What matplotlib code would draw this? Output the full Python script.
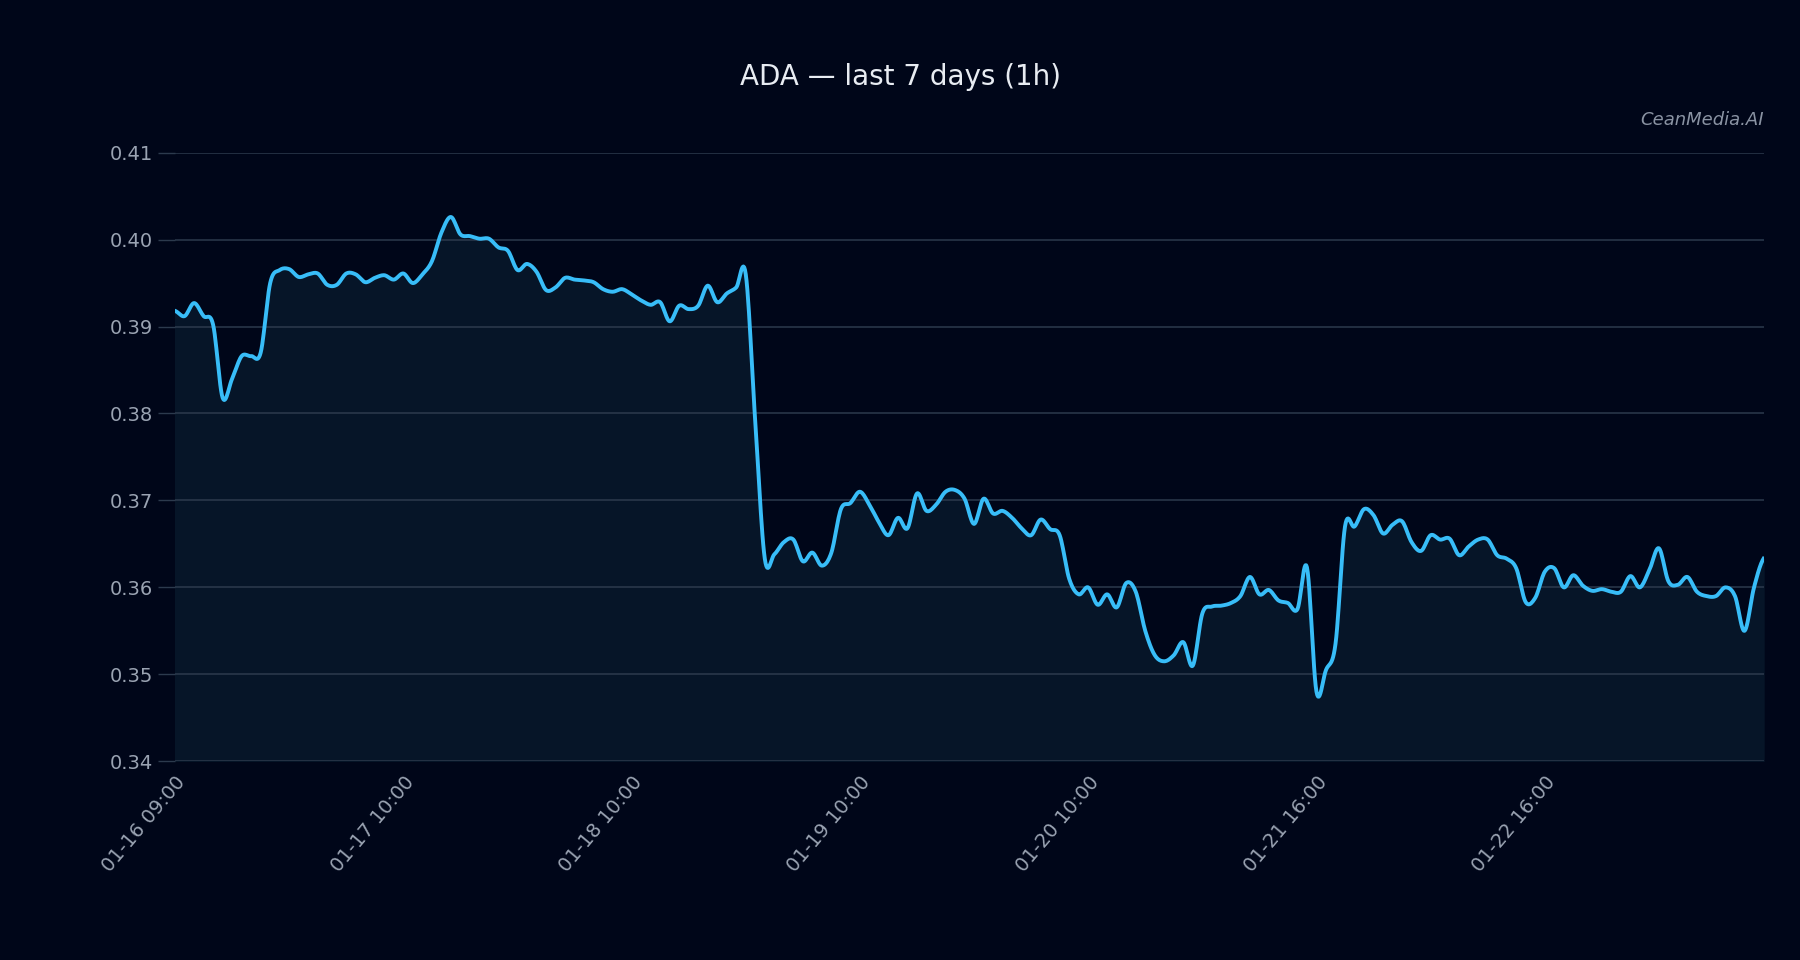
import numpy as np
import matplotlib
matplotlib.use("Agg")
import matplotlib.pyplot as plt

values = [0.3918,0.3912,0.3927,0.3912,0.3902,0.3818,0.3840,0.3866,0.3866,0.3870,
0.3950,0.3965,0.3966,0.3957,0.3960,0.3961,0.3948,0.3948,0.3961,0.3960,
0.3951,0.3956,0.3959,0.3954,0.3961,0.3950,0.3960,0.3975,0.4008,0.4026,
0.4006,0.4004,0.4001,0.4001,0.3991,0.3987,0.3965,0.3972,0.3963,0.3942,
0.3945,0.3956,0.3954,0.3953,0.3951,0.3943,0.3940,0.3943,0.3937,0.3930,
0.3925,0.3928,0.3906,0.3924,0.3920,0.3924,0.3947,0.3928,0.3938,0.3945,
0.3960,0.3790,0.3633,0.3638,0.3652,0.3655,0.3630,0.3640,0.3625,0.3640,
0.3690,0.3697,0.3710,0.3695,0.3675,0.3660,0.3680,0.3668,0.3708,0.3688,
0.3695,0.3710,0.3712,0.3702,0.3673,0.3702,0.3685,0.3688,0.3680,0.3668,
0.3660,0.3678,0.3667,0.3660,0.3610,0.3592,0.3600,0.3580,0.3592,0.3577,
0.3605,0.3595,0.3550,0.3522,0.3515,0.3522,0.3537,0.3510,0.3570,0.3578,
0.3579,0.3582,0.3590,0.3612,0.3592,0.3597,0.3585,0.3582,0.3575,0.3623,
0.3480,0.3505,0.3535,0.3670,0.3670,0.3690,0.3683,0.3662,0.3672,0.3676,
0.3652,0.3642,0.3660,0.3655,0.3656,0.3637,0.3647,0.3655,0.3655,0.3637,
0.3633,0.3622,0.3583,0.3588,0.3618,0.3622,0.3600,0.3614,0.3602,0.3596,
0.3598,0.3595,0.3595,0.3613,0.3600,0.3620,0.3645,0.3607,0.3603,0.3612,
0.3595,0.3590,0.3590,0.3600,0.3590,0.3550,0.3600,0.3633]
tick_pos = [0, 24, 48, 72, 96, 120, 144]
tick_labels = ["01-16 09:00","01-17 10:00","01-18 10:00","01-19 10:00",
               "01-20 10:00","01-21 16:00","01-22 16:00"]
yticks = [0.34,0.35,0.36,0.37,0.38,0.39,0.40,0.41]

y = np.array(values); x = np.arange(len(y))
# Catmull-Rom smoothing for display
n = 12
xs, ys = [], []
p = np.concatenate([[y[0]], y, [y[-1]]])
for i in range(len(y)-1):
    p0,p1,p2,p3 = p[i],p[i+1],p[i+2],p[i+3]
    t = np.linspace(0,1,n,endpoint=False)
    ys.append(0.5*((2*p1)+(-p0+p2)*t+(2*p0-5*p1+4*p2-p3)*t**2+(-p0+3*p1-3*p2+p3)*t**3))
    xs.append(i+t)
xs = np.concatenate(xs+[[x[-1]]]); ys = np.concatenate(ys+[[y[-1]]])

bg = "#000619"
fig = plt.figure(figsize=(18,9.6), dpi=100, facecolor=bg)
ax = fig.add_axes([0.097,0.207,0.883,0.634], facecolor=bg)
ax.fill_between(xs, ys, 0.34, color="#061528", zorder=1)
ax.plot(xs, ys, color="#38bdf8", lw=2.8, zorder=3)
ax.set_xlim(-0.05, len(y)-1+0.05)
ax.set_ylim(0.34, 0.41)
ax.set_yticks(yticks)
ax.set_yticklabels([f"{v:.2f}" for v in yticks])
ax.set_xticks(tick_pos)
ax.set_xticklabels(tick_labels, rotation=50, ha="right", rotation_mode="anchor")
ax.grid(axis="y", color="#2c3a4d", lw=1.1)
ax.tick_params(colors="#9aa3b2", labelsize=14, length=12, width=1, color="#2c3a4d")
ax.tick_params(axis="x", length=0, pad=8)
for s in ax.spines.values(): s.set_visible(False)
fig.text(0.5, 0.92, "ADA — last 7 days (1h)", color="#e8ecf2", fontsize=20, ha="center", va="center")
fig.text(0.98, 0.875, "CeanMedia.AI", color="#8a93a3", fontsize=13, style="italic", ha="right", va="center")
fig.savefig("out.png", facecolor=bg)
